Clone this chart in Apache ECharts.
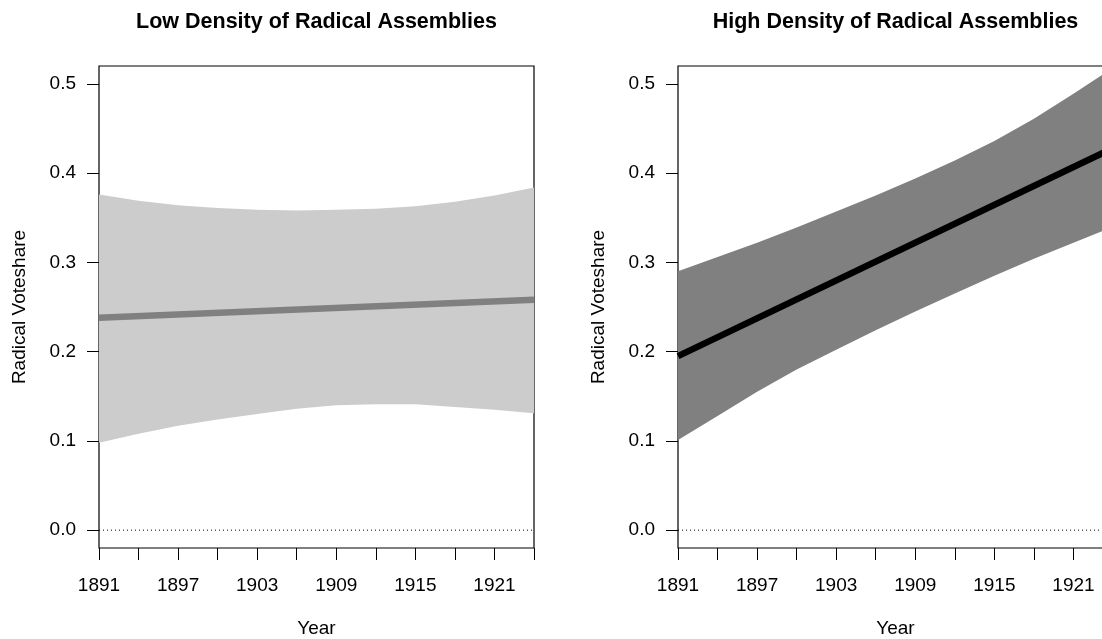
<!DOCTYPE html>
<html>
<head>
<meta charset="utf-8">
<script src="https://cdn.jsdelivr.net/npm/echarts@6/dist/echarts.min.js"></script>
<style>
  html, body { margin: 0; padding: 0; background: #fff; }
  #chart { width: 1102px; height: 639px; }
</style>
</head>
<body>
<div id="chart"></div>
<script>
// Predicted radical voteshare by year, with confidence bands
const years = [1891, 1894, 1897, 1900, 1903, 1906, 1909, 1912, 1915, 1918, 1921, 1924];

const lowUpper = [0.376, 0.369, 0.364, 0.361, 0.359, 0.358, 0.359, 0.360, 0.363, 0.368, 0.375, 0.384];
const lowLower = [0.098, 0.108, 0.117, 0.124, 0.130, 0.136, 0.140, 0.141, 0.141, 0.138, 0.135, 0.131];
const lowFitYears = [1891, 1924];
const lowFit = [0.238, 0.258];

const highUpper = [0.290, 0.306, 0.322, 0.339, 0.357, 0.375, 0.394, 0.414, 0.436, 0.461, 0.489, 0.518];
const highLower = [0.101, 0.128, 0.155, 0.180, 0.202, 0.224, 0.245, 0.265, 0.285, 0.304, 0.322, 0.340];
const highFitYears = [1891, 1924];
const highFit = [0.195, 0.428];

const xTicks = [1891, 1894, 1897, 1900, 1903, 1906, 1909, 1912, 1915, 1918, 1921, 1924];
const xLabels = [1891, 1897, 1903, 1909, 1915, 1921];
const yTicks = [0, 0.1, 0.2, 0.3, 0.4, 0.5];

const titles = ['Low Density of Radical Assemblies', 'High Density of Radical Assemblies'];
const FONT = 'Liberation Sans, Arial, Helvetica, sans-serif';

const panels = [
  { left: 99, upper: lowUpper, lower: lowLower, fitX: lowFitYears, fit: lowFit, band: '#cccccc', line: '#808080' },
  { left: 678, upper: highUpper, lower: highLower, fitX: highFitYears, fit: highFit, band: '#808080', line: '#000000' }
];
const plotW = 435, plotTop = 66, plotH = 482;

const grid = [], xAxis = [], yAxis = [], series = [], title = [];

panels.forEach((p, i) => {
  grid.push({
    left: p.left, top: plotTop, width: plotW, height: plotH,
    outerBoundsMode: 'none', containLabel: false,
    show: true, borderColor: '#000', borderWidth: 1.2, backgroundColor: 'transparent'
  });
  title.push({
    text: titles[i], left: p.left + plotW / 2, top: 11, padding: 0, textAlign: 'center',
    textStyle: { fontFamily: FONT, fontSize: 21.5, fontWeight: 'bold', color: '#000' }
  });
  xAxis.push({
    type: 'value', gridIndex: i, min: 1891, max: 1924, position: 'bottom',
    name: 'Year', nameLocation: 'middle', nameGap: 71, nameMoveOverlap: false,
    nameTextStyle: { fontFamily: FONT, fontSize: 19, color: '#000' },
    axisLine: { show: false, onZero: false },
    axisTick: { show: true, length: 12, customValues: xTicks, lineStyle: { color: '#000', width: 1 } },
    axisLabel: { customValues: xLabels, margin: 28, fontFamily: FONT, fontSize: 19, color: '#000',
                 formatter: v => String(v) },
    splitLine: { show: false }
  });
  yAxis.push({
    type: 'value', gridIndex: i, min: -0.02, max: 0.52, position: 'left',
    name: 'Radical Voteshare', nameLocation: 'middle', nameGap: 70, nameMoveOverlap: false,
    nameTextStyle: { fontFamily: FONT, fontSize: 19, color: '#000' },
    axisLine: { show: false, onZero: false },
    axisTick: { show: true, length: 12, customValues: yTicks, lineStyle: { color: '#000', width: 1 } },
    axisLabel: { customValues: yTicks, margin: 23, fontFamily: FONT, fontSize: 19, color: '#000',
                 formatter: v => v.toFixed(1) },
    splitLine: { show: false }
  });

  // reference line at zero
  series.push({
    type: 'line', xAxisIndex: i, yAxisIndex: i, silent: true, symbol: 'none',
    data: [[1891, 0], [1924, 0]],
    lineStyle: { color: '#000', width: 1, type: [1, 3] }, z: 1
  });
  // confidence band polygon: upper bound left→right, lower bound right→left
  series.push({
    type: 'custom', xAxisIndex: i, yAxisIndex: i, silent: true, z: 2,
    data: [[years[0], p.lower[0]]],
    renderItem: (params, api) => {
      const pts = [];
      years.forEach((y, k) => pts.push(api.coord([y, p.upper[k]])));
      for (let k = years.length - 1; k >= 0; k--) pts.push(api.coord([years[k], p.lower[k]]));
      return {
        type: 'polygon',
        shape: { points: pts },
        style: { fill: p.band, stroke: null }
      };
    }
  });
  // fitted line
  series.push({
    type: 'line', xAxisIndex: i, yAxisIndex: i, symbol: 'none',
    data: p.fitX.map((y, k) => [y, p.fit[k]]),
    lineStyle: { color: p.line, width: 6.5, cap: 'butt' }, z: 3
  });
});

const chart = echarts.init(document.getElementById('chart'), null, { renderer: 'canvas' });
chart.setOption({
  animation: false,
  backgroundColor: '#fff',
  title, grid, xAxis, yAxis, series
});
</script>
</body>
</html>
